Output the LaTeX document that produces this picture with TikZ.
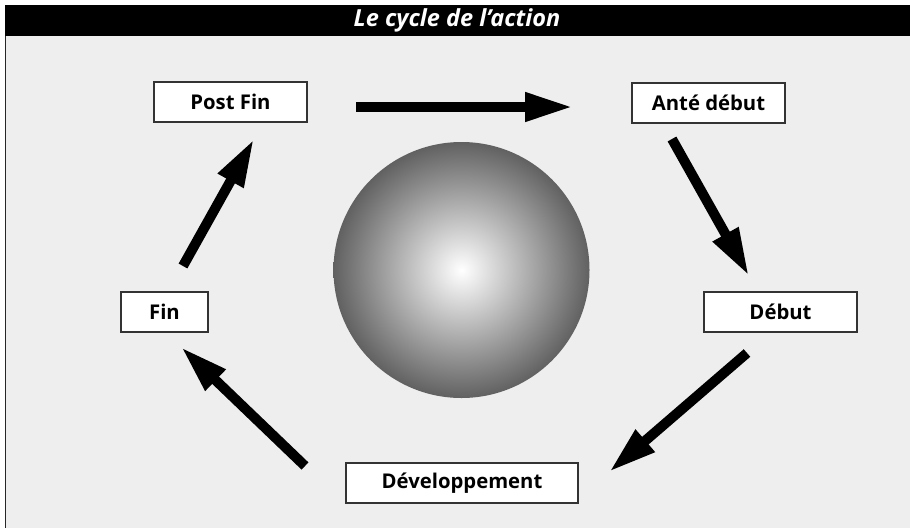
\documentclass[tikz,border=0pt]{standalone}
\usepackage{fontspec}
\setmainfont{Open Sans}
\usetikzlibrary{arrows.meta}
\definecolor{bg}{HTML}{EEEEEE}
\definecolor{boxline}{HTML}{333333}
\begin{document}
\begin{tikzpicture}[x=1pt,y=-1pt,
  box/.style={draw=boxline, line width=1.3pt, fill=white, minimum height=40pt,
    inner sep=0pt, font=\fontsize{20.3}{23}\selectfont\bfseries},
  bigarrow/.style={line width=10pt, -{Triangle[length=48pt,width=27pt]}}]
\useasboundingbox (0,0) rectangle (910,528);
\fill[white] (0,0) rectangle (910,528);
\fill[bg] (5,5) rectangle (910,528);
\draw[black!85, line width=1.5pt] (5.5,5) -- (5.5,528);
\fill[black] (5,5) rectangle (910,36);
\node[text=white, font=\fontsize{23.5}{26}\selectfont\bfseries\itshape] (title) at (457,20.5) {Le cycle de l’action};

\node[circle, minimum size=256pt, inner sep=0pt, shading=radial, inner color=white, outer color=black!62] (sphere) at (461.5,270) {};

\node[box, minimum width=153pt] (postfin) at (230.5,102) {Post Fin};
\node[box, minimum width=153pt] (antedebut) at (708.5,103) {Anté début};
\node[box, minimum width=153pt] (debut) at (780.5,312) {Début};
\node[box, minimum width=87pt] (fin) at (164.5,312) {Fin};
\node[box, minimum width=232pt] (dev) at (462,483) {Développement};

\coordinate (a1s) at (356,107);
\coordinate (a1e) at (573,107);
\coordinate (a2s) at (672,139);
\coordinate (a2e) at (749,276);
\coordinate (a3s) at (747,353);
\coordinate (a3e) at (609,472);
\coordinate (a4s) at (305,466);
\coordinate (a4e) at (181,347);
\coordinate (a5s) at (183,266);
\coordinate (a5e) at (254,139);

\draw[bigarrow] (a1s) -- (a1e);
\draw[bigarrow] (a2s) -- (a2e);
\draw[bigarrow] (a3s) -- (a3e);
\draw[bigarrow] (a4s) -- (a4e);
\draw[bigarrow] (a5s) -- (a5e);
\end{tikzpicture}
\end{document}
